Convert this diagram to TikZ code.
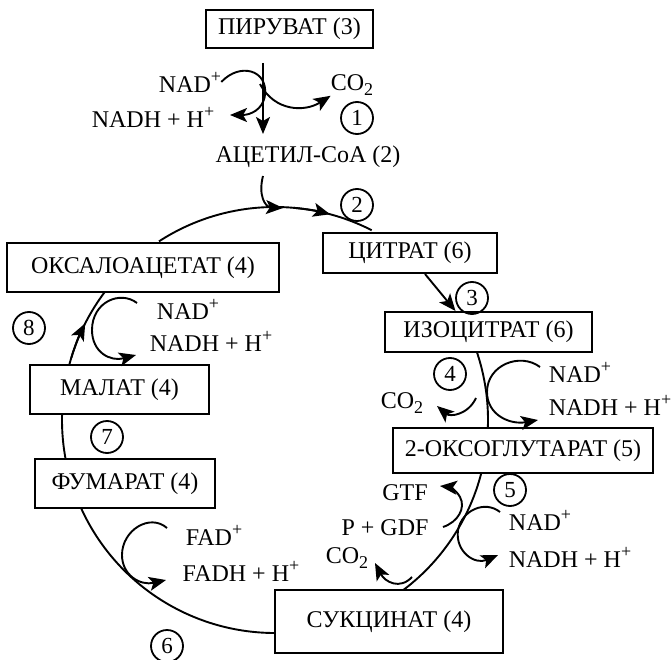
\documentclass[tikz,border=0pt]{standalone}
\usepackage{fontspec}
\setmainfont{Liberation Serif}
\usetikzlibrary{arrows.meta,backgrounds}
\newcommand{\plussup}{\raisebox{0.42em}{\fontsize{18}{18}\selectfont +}}
\newcommand{\twosub}{\raisebox{-0.22em}{\fontsize{18}{18}\selectfont 2}}
\begin{document}
\begin{tikzpicture}[x=1pt,y=-1pt,
  box/.style={draw,line width=2pt,fill=white,inner sep=0pt,font=\fontsize{24}{28}\selectfont},
  lbl/.style={inner sep=0pt,font=\fontsize{24}{28}\selectfont},
  num/.style={draw,circle,line width=1.8pt,minimum size=32pt,inner sep=0pt,font=\fontsize{23}{26}\selectfont},
  flow/.style={line width=1.9pt},
  tip/.style={line width=1.9pt,-{Stealth[length=17pt,width=14pt,inset=4pt]}},
]
\useasboundingbox (0,0) rectangle (671,660);

% boxes
\node[box,minimum width=167pt,minimum height=38pt] (pyr) at (289.5,29) {ПИРУВАТ (3)};
\node[box,minimum width=174pt,minimum height=40pt] (cit) at (410,253) {ЦИТРАТ (6)};
\node[box,minimum width=207pt,minimum height=40pt] (iso) at (488.5,332) {ИЗОЦИТРАТ (6)};
\node[box,minimum width=260pt,minimum height=45pt] (oxo) at (523,450.5) {2-ОКСОГЛУТАРАТ (5)};
\node[box,minimum width=228pt,minimum height=63pt] (suc) at (389,621.5) {СУКЦИНАТ (4)};
\node[box,minimum width=180pt,minimum height=49pt] (fum) at (125,483.5) {ФУМАРАТ (4)};
\node[box,minimum width=179pt,minimum height=49pt] (mal) at (119.5,389.5) {МАЛАТ (4)};
\node[box,minimum width=272pt,minimum height=49pt] (oxa) at (143,267.5) {ОКСАЛОАЦЕТАТ (4)};

% labels
\node[lbl] (aca) at (308,157) {АЦЕТИЛ-CoA (2)};
\node[lbl] (nad1) at (190,82) {NAD\plussup};
\node[lbl] (co1) at (352,85) {CO\twosub};
\node[lbl] (nadh1) at (153,117) {NADH + H\plussup};
\node[lbl] (nad8) at (188,309) {NAD\plussup};
\node[lbl] (nadh8) at (211,341) {NADH + H\plussup};
\node[lbl] (nad4) at (580,372) {NAD\plussup};
\node[lbl] (nadh4) at (610,405) {NADH + H\plussup};
\node[lbl] (co4) at (402,403) {CO\twosub};
\node[lbl] (gtf) at (405,493) {GTF};
\node[lbl] (pgdf) at (385,528) {P + GDF};
\node[lbl] (co5) at (347,558) {CO\twosub};
\node[lbl] (nad5) at (540,520) {NAD\plussup};
\node[lbl] (nadh5) at (570,557) {NADH + H\plussup};
\node[lbl] (fad) at (214,535) {FAD\plussup};
\node[lbl] (fadh) at (241,571) {FADH + H\plussup};

% step numbers
\node[num] (n1) at (357,118) {1};
\node[num] (n2) at (357,205) {2};
\node[num] (n3) at (472,298) {3};
\node[num] (n4) at (450,374) {4};
\node[num] (n5) at (510,490) {5};
\node[num] (n6) at (167,646) {6};
\node[num] (n7) at (107,437) {7};
\node[num] (n8) at (29,328) {8};

% cycle
\coordinate (cyc) at (275,420);
\begin{scope}[on background layer]
\draw[flow] (cyc) ++(237:213) arc[start angle=237,end angle=297,radius=213];
\draw[flow] (cyc) ++(-19:213) arc[start angle=-19,end angle=3,radius=213];
\draw[flow] (cyc) ++(13:213) arc[start angle=13,end angle=54,radius=213];
\draw[flow] (cyc) ++(88:213) arc[start angle=88,end angle=157,radius=213];
\draw[flow] (cyc) ++(168:213) arc[start angle=168,end angle=183,radius=213];
\draw[flow] (cyc) ++(194:213) arc[start angle=194,end angle=218,radius=213];
\end{scope}
\draw[tip] (cyc) ++(275:213) arc[start angle=275,end angle=285,radius=213];
\draw[tip] (cyc) ++(197:213) arc[start angle=197,end angle=207,radius=213];
\draw[tip] ([xshift=15pt]cit.south) -- ([xshift=-33pt]iso.north);

% step 1
\coordinate (v1) at (263,63);
\coordinate (v2) at (263,134);
\draw[tip] (v1) -- (v2);
\draw[tip] (nad1.east) .. controls (240,62) and (268,70) .. (265,95) .. controls (263,110) and (250,115) .. (230,115);
\draw[tip] (260,84) .. controls (275,112) and (305,112) .. (co1.south west);

% acetyl-CoA in
\coordinate (a1) at (263,176);
\coordinate (a2) at (283,208);
\draw[tip] (a1) .. controls (258,195) and (265,207) .. (a2);

% step 8
\draw[tip] (137,303) .. controls (120,290) and (92,302) .. (92,330) .. controls (92,352) and (110,362) .. (136,355);

% step 4
\draw[tip] (540,367) .. controls (520,352) and (487,365) .. (487,392) .. controls (487,415) and (510,425) .. (538,420);
\draw[tip] (476,398) .. controls (468,415) and (450,417) .. (437,406);

% step 5
\draw[tip] (443,527) .. controls (458,522) and (466,508) .. (460,497) .. controls (456,490) and (450,487) .. (440,486);
\draw[tip] (500,512) .. controls (485,500) and (462,510) .. (458,530) .. controls (455,552) and (475,565) .. (498,555);
\draw[tip] (412,577) .. controls (400,590) and (385,582) .. (375,563);

% step 6
\draw[tip] (167,528) .. controls (150,513) and (122,530) .. (122,555) .. controls (122,575) and (140,586) .. (166,580);
\end{tikzpicture}
\end{document}
